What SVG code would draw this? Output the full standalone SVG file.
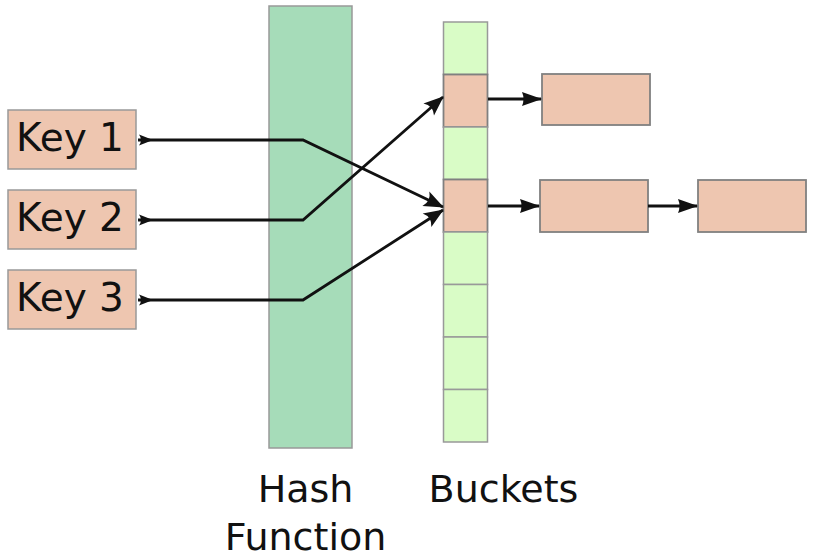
<svg xmlns="http://www.w3.org/2000/svg" width="814" height="558" viewBox="0 0 814 558">
<style>
.key{fill:#eec6b0;stroke:#999;stroke-width:1.5}
.used{fill:#eec6b0;stroke:#808080;stroke-width:1.8}
.empty{fill:#d9fcc6;stroke:#999;stroke-width:1.5}
.hash{fill:#a6dcb9;stroke:#999;stroke-width:1.5}
.lbl{font-family:"DejaVu Sans",sans-serif;font-size:38px;fill:#111}
.klbl{font-family:"DejaVu Sans",sans-serif;font-size:39px;fill:#111}
.ln{fill:none;stroke:#111;stroke-width:2.8}
</style>
<defs>
<marker id="tail" markerUnits="userSpaceOnUse" markerWidth="18" markerHeight="14" refX="0" refY="7" orient="auto" overflow="visible">
<path d="M1,1.5 Q5,7 1,12.5 L15,7 Z" fill="#111"/>
</marker>
<marker id="barb" markerUnits="userSpaceOnUse" markerWidth="22" markerHeight="18" refX="19" refY="9" orient="auto" overflow="visible">
<path d="M0,1 L20,9 L0,17 Q6,9 0,1 Z" fill="#111"/>
</marker>
<marker id="tri" markerUnits="userSpaceOnUse" markerWidth="22" markerHeight="18" refX="19" refY="9" orient="auto" overflow="visible">
<path d="M0,2 L20,9 L0,16 Q3,9 0,2 Z" fill="#111"/>
</marker>
</defs>
<g id="hash-function">
<rect class="hash" x="269" y="6" width="83" height="442"/>
<text class="lbl" x="305.5" y="502" text-anchor="middle">Hash</text>
<text class="lbl" x="305.5" y="550" text-anchor="middle">Function</text>
</g>
<g id="key1"><rect class="key" x="8" y="110" width="128" height="59"/><text class="klbl" x="16" y="151">Key 1</text></g>
<g id="key2"><rect class="key" x="8" y="190" width="128" height="59"/><text class="klbl" x="16" y="231">Key 2</text></g>
<g id="key3"><rect class="key" x="8" y="270" width="128" height="59"/><text class="klbl" x="16" y="311">Key 3</text></g>
<g id="buckets">
<rect class="empty" x="443.5" y="22" width="44" height="52.5"/>
<rect class="used" x="443.5" y="74.5" width="44" height="52.5"/>
<rect class="empty" x="443.5" y="127" width="44" height="52.5"/>
<rect class="used" x="443.5" y="179.5" width="44" height="52.5"/>
<rect class="empty" x="443.5" y="232" width="44" height="52.5"/>
<rect class="empty" x="443.5" y="284.5" width="44" height="52.5"/>
<rect class="empty" x="443.5" y="337" width="44" height="52.5"/>
<rect class="empty" x="443.5" y="389.5" width="44" height="52.5"/>
<text class="lbl" x="503.5" y="502" text-anchor="middle">Buckets</text>
</g>
<g id="entry1"><rect class="used" x="542" y="74" width="108" height="51"/></g>
<g id="entry2"><rect class="used" x="540" y="180" width="108" height="52"/></g>
<g id="entry3"><rect class="used" x="698" y="180" width="108" height="52"/></g>
<g id="connectors">
<path class="ln" d="M138,140 H303 L443,207" marker-start="url(#tail)" marker-end="url(#barb)"/>
<path class="ln" d="M138,220 H303 L443,97" marker-start="url(#tail)" marker-end="url(#barb)"/>
<path class="ln" d="M138,300 H303 L443,210" marker-start="url(#tail)" marker-end="url(#barb)"/>
<path class="ln" d="M488,99 H541" marker-end="url(#tri)"/>
<path class="ln" d="M488,206 H539" marker-end="url(#tri)"/>
<path class="ln" d="M648,206 H697" marker-end="url(#tri)"/>
</g>
</svg>
